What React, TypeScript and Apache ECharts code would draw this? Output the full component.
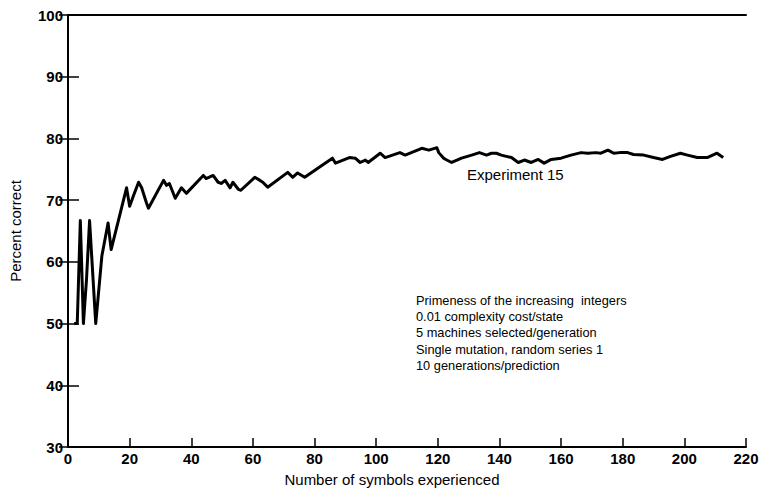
import React, { useEffect, useRef } from "react";
import * as echarts from "echarts";

const symbolsX: number[] = [
  2, 3, 4, 5, 6, 7, 8, 9, 11, 13, 14, 19, 20, 21.3, 22.9, 23.9, 25.5, 26.1,
  31, 32, 32.9, 34.8, 36.8, 38.4, 43.9, 44.8, 47.1, 48.7, 49.7, 51, 52.6, 53.5,
  55.2, 56.1, 60.6, 62.3, 63.2, 64.8, 71.3, 72.9, 74.5, 76.8, 85.8, 86.8, 91.3,
  93.2, 94.8, 96.5, 97.4, 101.3, 102.9, 107.7, 109.4, 114.8, 117.1, 119.7, 120.3,
  121.9, 122.9, 124.5, 127.7, 131, 133.5, 135.8, 137.4, 139, 140.6, 143.9, 146.1,
  148.1, 150.3, 152.6, 154.5, 156.8, 160, 163.2, 166.5, 168.7, 171.3, 172.9,
  175.2, 177.1, 179, 181.6, 183.5, 186.8, 190, 192.9, 195.5, 198.7, 201, 204.2,
  207.4, 210.6, 212.6,
];
const percentCorrect: number[] = [
  50, 50, 66.7, 50, 57.1, 66.7, 58.3, 50, 61, 66.3, 62, 72, 69, 70.8, 72.9, 72,
  69.5, 68.7, 73.2, 72.4, 72.7, 70.3, 72, 71.1, 74, 73.5, 74, 72.9, 72.7, 73.2,
  72, 72.9, 71.8, 71.6, 73.7, 73.2, 72.9, 72.1, 74.5, 73.7, 74.4, 73.7, 76.8, 76,
  76.9, 76.8, 76.1, 76.5, 76.1, 77.6, 76.9, 77.7, 77.3, 78.4, 78.1, 78.5, 77.7,
  76.8, 76.5, 76.1, 76.8, 77.3, 77.7, 77.3, 77.6, 77.6, 77.3, 76.9, 76.1, 76.5,
  76.1, 76.6, 76, 76.6, 76.8, 77.3, 77.7, 77.6, 77.7, 77.6, 78.1, 77.6, 77.7,
  77.7, 77.4, 77.3, 76.9, 76.6, 77.1, 77.6, 77.3, 76.9, 76.9, 77.6, 76.9,
];
const annotationLines: string[] = [
  "Primeness of the increasing  integers",
  "0.01 complexity cost/state",
  "5 machines selected/generation",
  "Single mutation, random series 1",
  "10 generations/prediction",
];
const seriesLabel = "Experiment 15";
const xTitle = "Number of symbols experienced";
const yTitle = "Percent correct";

const FONT = "Liberation Sans";

export default function App() {
  const ref = useRef<HTMLDivElement>(null);
  useEffect(() => {
    if (!ref.current) return;
    const chart = echarts.init(ref.current, undefined, { renderer: "svg" });
    const data = symbolsX.map((x, i) => [x, percentCorrect[i]]);
    const axisLine = { show: true, lineStyle: { color: "#000", width: 2 } };
    chart.setOption({
      animation: false,
      backgroundColor: "#fff",
      grid: { left: 64, right: 16, top: 15, bottom: 43, containLabel: false },
      xAxis: [
        {
          type: "value",
          min: 0,
          max: 220,
          interval: 20,
          position: "bottom",
          axisLine,
          axisTick: { show: true, inside: true, length: 9, lineStyle: { color: "#000", width: 1.5 } },
          splitLine: { show: false },
          axisLabel: { color: "#000", fontSize: 15, fontWeight: "bold", fontFamily: FONT, margin: 4 },
          name: xTitle,
          nameLocation: "middle",
          nameGap: 25,
          nameTextStyle: { color: "#000", fontSize: 15, fontFamily: FONT, padding: [0, 30, 0, 0] },
        },
        {
          type: "value",
          min: 0,
          max: 220,
          interval: 20,
          position: "top",
          axisLine,
          axisTick: { show: false },
          axisLabel: { show: false },
          splitLine: { show: false },
        },
      ],
      yAxis: [
        {
          type: "value",
          min: 30,
          max: 100,
          interval: 10,
          position: "left",
          axisLine,
          axisTick: { show: true, inside: true, length: 11, lineStyle: { color: "#000", width: 1.5 } },
          splitLine: { show: false },
          axisLabel: { color: "#000", fontSize: 15, fontWeight: "bold", fontFamily: FONT, margin: 5 },
          name: yTitle,
          nameLocation: "middle",
          nameGap: 45,
          nameTextStyle: { color: "#000", fontSize: 15, fontFamily: FONT },
        },
        {
          type: "value",
          min: 30,
          max: 100,
          interval: 10,
          position: "right",
          axisLine,
          axisTick: { show: true, inside: true, length: 9, lineStyle: { color: "#000", width: 1.5 } },
          axisLabel: { show: false },
          splitLine: { show: false },
        },
      ],
      series: [
        {
          type: "line",
          name: seriesLabel,
          data,
          showSymbol: false,
          symbol: "none",
          lineStyle: { color: "#000", width: 3, join: "round" },
          xAxisIndex: 0,
          yAxisIndex: 0,
        },
      ],
      graphic: [
        {
          type: "text",
          left: 467,
          top: 167,
          style: { text: seriesLabel, fontSize: 15, fontFamily: FONT, fill: "#000" },
        },
        {
          type: "text",
          left: 416,
          top: 292,
          style: {
            text: annotationLines.join("\n"),
            fontSize: 12.8,
            lineHeight: 16.3,
            fontFamily: FONT,
            fill: "#000",
          },
        },
      ],
    });
    return () => chart.dispose();
  }, []);
  return (
    <div
      ref={ref}
      style={{ position: "fixed", left: 0, top: 0, width: 762, height: 492 }}
    />
  );
}
